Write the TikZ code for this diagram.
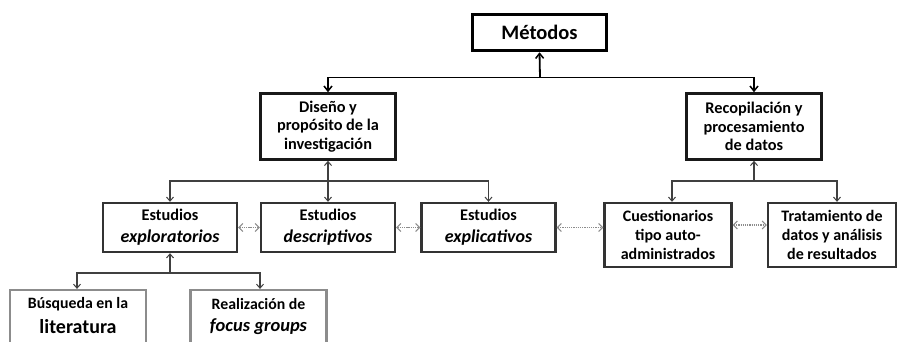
\documentclass[tikz,border=0pt]{standalone}
\usepackage{fontspec}
\setmainfont{Carlito}
\usetikzlibrary{arrows.meta,calc}
\begin{document}
\begin{tikzpicture}[x=1pt,y=-1pt,
  font=\bfseries,
  topbox/.style={draw=black,line width=3.5pt,fill=white,minimum width=134pt,minimum height=36pt,inner sep=0pt,font=\bfseries\fontsize{20.5}{24}\selectfont},
  midbox/.style={draw=black!90,line width=2.6pt,fill=white,minimum width=135pt,minimum height=66pt,inner sep=0pt,align=center,font=\bfseries\fontsize{16.3}{18.8}\selectfont},
  studybox/.style={draw=black!80,line width=2.4pt,fill=white,minimum width=134pt,minimum height=49pt,inner sep=0pt,align=center,font=\bfseries\fontsize{16.3}{22}\selectfont},
  databox/.style={studybox,minimum width=127pt,minimum height=64pt,font=\bfseries\fontsize{16}{19.3}\selectfont},
  lowbox/.style={draw=black!45,line width=2.2pt,fill=white,minimum width=136pt,minimum height=60pt,inner sep=0pt},
  link/.style={draw=black,line width=1.8pt,-{Straight Barb[length=5pt,width=8pt,line width=1.5pt]}},
  sublink/.style={draw=black!75,line width=1.1pt,-{Straight Barb[length=4pt,width=7pt,line width=1pt]}},
  peer/.style={draw=black!45,line width=1.3pt,dash pattern=on 1.3pt off 0.9pt,
    {Straight Barb[length=4pt,width=8pt,line width=1pt]}-{Straight Barb[length=4pt,width=8pt,line width=1pt]}},
  studyterm/.style={font=\bfseries\itshape\fontsize{18.5}{22}\selectfont}
]
\useasboundingbox (0,0) rectangle (901,341);
\fill[white] (0,0) rectangle (901,341);
\clip (0,0) rectangle (901,341);

% top level
\node[topbox] (metodos) at (539.5,32.5) {Métodos};

% second level
\node[midbox] (diseno) at (328,126.5) {Diseño y\\propósito de la\\investigación};
\node[midbox] (recop) at (754,126.5) {Recopilación y\\procesamiento\\de datos};

% study types
\node[studybox] (explor) at (170,227.5) {Estudios\\{\fontsize{18}{22}\selectfont\itshape exploratorios}};
\node[studybox] (descr) at (328,227.5) {Estudios\\{\fontsize{18}{22}\selectfont\itshape descriptivos}};
\node[studybox] (explic) at (488.5,227.5) {Estudios\\{\fontsize{18}{22}\selectfont\itshape explicativos}};

% data handling
\node[databox] (cuest) at (668,235) {Cuestionarios\\tipo auto-\\administrados};
\node[databox,minimum width=128pt] (trat) at (832,235) {Tratamiento de\\datos y análisis\\de resultados};

% exploratory sub-steps
\node[lowbox] (busq) at (78,320) {};
\node[font=\bfseries\fontsize{15.8}{18}\selectfont] (busqa) at (78,304) {Búsqueda en la};
\node[font=\bfseries\fontsize{20}{22}\selectfont] (busqb) at (78,327) {literatura};
\node[lowbox] (realiz) at (258.5,320) {};
\node[font=\bfseries\fontsize{15.8}{18}\selectfont] (realiza) at (258.5,304) {Realización de};
\node[studyterm] (realizb) at (258.5,327) {focus groups};

% junctions
\coordinate (j0) at (540,77.5);
\coordinate (j1) at (328,181);
\coordinate (j2) at (754,181);
\coordinate (j3) at (170,273);
\coordinate (pk) at (750,225);

\draw[link] (j0) -- (metodos.south);
\draw[link] (j0) -| (diseno.north);
\draw[link] (j0) -| (recop.north);

\draw[sublink] (j1) -- (diseno.south);
\draw[sublink] (j1) -| (explor.north);
\draw[sublink] (j1) -- (descr.north);
\draw[sublink] (j1) -| (explic.north);

\draw[sublink] (j2) -- (recop.south);
\draw[sublink] (j2) -| ([xshift=4pt]cuest.north);
\draw[sublink] (j2) -| ([xshift=5pt]trat.north);

\draw[sublink] (j3) -- (explor.south);
\draw[sublink] (j3) -| ([xshift=-1pt]busq.north);
\draw[sublink] (j3) -| ([xshift=1.5pt]realiz.north);

% links between neighbouring boxes
\draw[peer] (explor.east) -- (descr.west);
\draw[peer] (descr.east) -- (explic.west);
\draw[peer] (explic.east) -- (explic.east -| cuest.west);
\draw[peer] (pk -| cuest.east) -- (pk -| trat.west);
\end{tikzpicture}
\end{document}
